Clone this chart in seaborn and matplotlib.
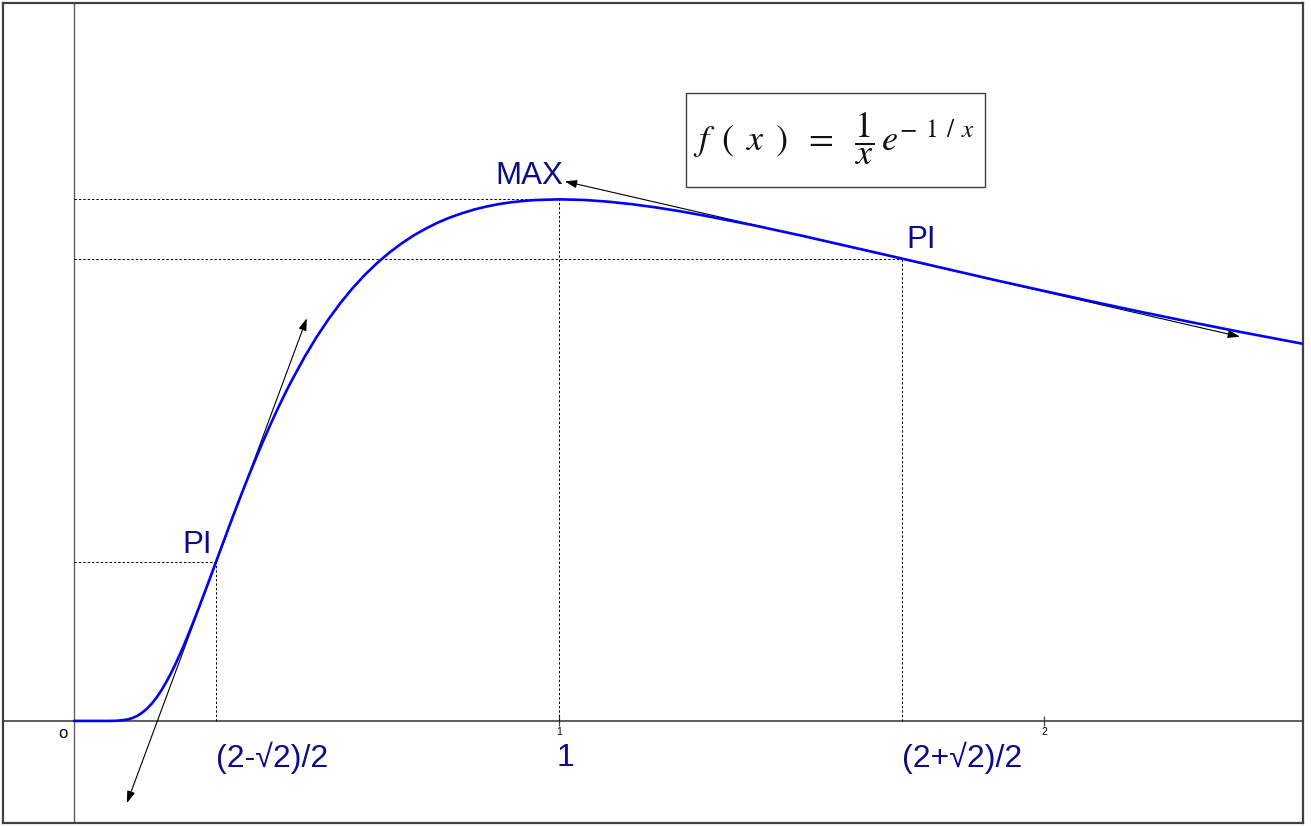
import matplotlib
matplotlib.use("Agg")
import matplotlib.pyplot as plt
from matplotlib.patches import Rectangle
import seaborn as sns
import pandas as pd

# ---- data ----
curve_x = [0.0, 0.05, 0.07, 0.08, 0.09, 0.10, 0.11, 0.12, 0.13, 0.14, 0.15, 0.16,
           0.17, 0.18, 0.19, 0.20, 0.21, 0.22, 0.23, 0.24, 0.25, 0.26, 0.27, 0.28,
           0.29, 0.30, 0.31, 0.32, 0.33, 0.34, 0.35, 0.36, 0.37, 0.38, 0.39, 0.40,
           0.41, 0.42, 0.43, 0.44, 0.45, 0.475, 0.50, 0.525, 0.55, 0.575, 0.60,
           0.625, 0.65, 0.675, 0.70, 0.725, 0.75, 0.775, 0.80, 0.825, 0.85, 0.875,
           0.90, 0.925, 0.95, 1.00, 1.05, 1.10, 1.15, 1.20, 1.25, 1.30, 1.40, 1.50,
           1.60, 1.70, 1.80, 1.90, 2.00, 2.10, 2.20, 2.30, 2.40, 2.54]
curve_y = [0.0, 0.0, 0.0, 0.00005, 0.00017, 0.0005, 0.0010, 0.0020, 0.0035, 0.0057,
           0.0085, 0.0121, 0.0164, 0.0215, 0.0273, 0.0337, 0.0407, 0.0482, 0.0562,
           0.0646, 0.0733, 0.0822, 0.0912, 0.1004, 0.1096, 0.1189, 0.1281, 0.1373,
           0.1464, 0.1553, 0.1641, 0.1727, 0.1811, 0.1893, 0.1974, 0.2052, 0.2128,
           0.2202, 0.2273, 0.2342, 0.2408, 0.2565, 0.2707, 0.2835, 0.2951, 0.3055,
           0.3148, 0.3230, 0.3303, 0.3367, 0.3424, 0.3472, 0.3515, 0.3551, 0.3581,
           0.3607, 0.3628, 0.3645, 0.3658, 0.3667, 0.3674, 0.3679, 0.3675, 0.3663,
           0.3645, 0.3622, 0.3595, 0.3564, 0.3497, 0.3423, 0.3345, 0.3267, 0.3188,
           0.3109, 0.3033, 0.2958, 0.2885, 0.2815, 0.2747, 0.2656]

key_x = [0.2929, 1.0, 1.7071]          # PI, MAX, PI
key_y = [0.1123, 0.3679, 0.3261]
key_names = ["PI", "MAX", "PI"]
key_xlabels = ["(2-\u221a2)/2", "1", "(2+\u221a2)/2"]

tangent1_x = [0.109, 0.480]
tangent1_y = [-0.058, 0.284]
tangent2_x = [1.012, 2.404]
tangent2_y = [0.3806, 0.271]

tick_vals = [1, 2]
tick_labels = ["1", "2"]

# ---- figure ----
sns.set_theme(style="white")
plt.rcParams["font.family"] = ["Liberation Sans", "DejaVu Sans"]
plt.rcParams["mathtext.fontset"] = "stix"

fig = plt.figure(figsize=(13.11, 8.26), dpi=100)
ax = fig.add_axes([3 / 1311, 3 / 826, 1300 / 1311, 820 / 826])
ax.set_xlim(-0.1464, 2.534)
ax.set_ylim(-0.0720, 0.5064)
ax.set_xticks([])
ax.set_yticks([])
for s in ax.spines.values():
    s.set_color("#404040")
    s.set_linewidth(1.6)

# axes through origin
ax.axhline(0, color="#505050", lw=1.3, zorder=1)
ax.axvline(0, color="#606060", lw=1.0, zorder=1)
ax.plot(tick_vals, [0, 0], ls="none", marker="|", ms=7, mew=0.9, color="#404040")
for v, t in zip(tick_vals, tick_labels):
    ax.text(v, -0.0045, t, fontsize=7.5, ha="center", va="top", color="black")
ax.text(-0.013, -0.0035, "o", fontsize=12, ha="right", va="top", color="black")

# dashed guides
for kx, ky in zip(key_x, key_y):
    ax.plot([0, kx], [ky, ky], color="black", lw=0.7, ls=(0, (2.5, 2)), zorder=2)
    ax.plot([kx, kx], [0, ky], color="black", lw=0.7, ls=(0, (2.5, 2)), zorder=2)

# curve
df = pd.DataFrame({"x": curve_x, "y": curve_y})
sns.lineplot(data=df, x="x", y="y", ax=ax, color="#0000ff", lw=1.9, sort=False,
             zorder=4, estimator=None, solid_joinstyle="round")
ax.set_xlabel("")
ax.set_ylabel("")

# tangent arrows
arrow_kw = dict(arrowstyle="<|-|>,head_length=0.6,head_width=0.2", color="black",
                lw=0.8, shrinkA=0, shrinkB=0)
ax.annotate("", xy=(tangent1_x[1], tangent1_y[1]), xytext=(tangent1_x[0], tangent1_y[0]),
            arrowprops=arrow_kw, zorder=3)
ax.annotate("", xy=(tangent2_x[1], tangent2_y[1]), xytext=(tangent2_x[0], tangent2_y[0]),
            arrowprops=arrow_kw, zorder=3)

navy = "#0c0c8a"
# point names
name_offsets = [(-0.039, 0.012), (-0.062, 0.0163), (0.039, 0.0129)]
for kx, ky, nm, (dx, dy) in zip(key_x, key_y, key_names, name_offsets):
    ax.text(kx + dx, ky + dy, nm, fontsize=22.5, color=navy, ha="center", va="center")
# x labels
xl_offsets = [0.115, 0.0144, 0.124]
for kx, lab, dx in zip(key_x, key_xlabels, xl_offsets):
    ax.text(kx + dx, -0.0261, lab, fontsize=23, color=navy, ha="center", va="center")

# formula box
ax.add_patch(Rectangle((1.262, 0.3764), 0.616, 0.0664, fill=False,
                       edgecolor="#404040", lw=1.0, zorder=5))
ax.text(1.566, 0.4110,
        r"$f\ \,(\ \,x\ \,)\ \;=\ \;\dfrac{1}{x}\,e^{-\;\,1\;\,/\;\,x}$",
        fontsize=26, ha="center", va="center", color="#111111", zorder=6)

fig.savefig("out.png", dpi=100)
